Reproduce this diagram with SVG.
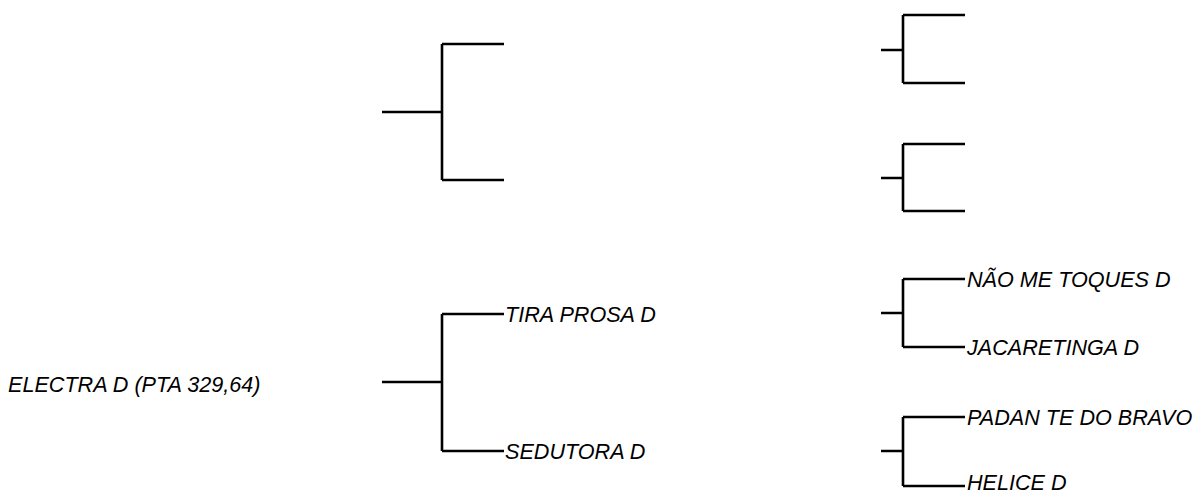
<svg xmlns="http://www.w3.org/2000/svg" width="1195" height="491" viewBox="0 0 1195 491">
<style>
.l{fill:none;stroke:#000;stroke-width:2.6;stroke-linecap:butt;stroke-linejoin:miter}
.t{font-family:"Liberation Sans",Arial,sans-serif;font-style:italic;font-size:21.6px;fill:#000}
</style>
<rect width="1195" height="491" fill="#fff"/>
<g id="connectors">
<path class="l" d="M382,112H442M442,44V180M442,44H504M442,180H504"/>
<path class="l" d="M382,382H442M442,314V451M442,314H504M442,451H504"/>
<path class="l" d="M881,50H903M903,15V83M903,15H965M903,83H965"/>
<path class="l" d="M881,178H903M903,144V211M903,144H965M903,211H965"/>
<path class="l" d="M881,313H903M903,279V347M903,279H965M903,347H965"/>
<path class="l" d="M881,451H903M903,417V486M903,417H965M903,486H965"/>
</g>
<g id="n-electra"><text class="t" x="8" y="392">ELECTRA D (PTA 329,64)</text></g>
<g id="n-tiraprosa"><text class="t" x="505" y="322">TIRA PROSA D</text></g>
<g id="n-sedutora"><text class="t" x="505" y="459">SEDUTORA D</text></g>
<g id="n-naometoques"><text class="t" x="967" y="287">NÃO ME TOQUES D</text></g>
<g id="n-jacaretinga"><text class="t" x="967" y="355">JACARETINGA D</text></g>
<g id="n-padante"><text class="t" x="967" y="425">PADAN TE DO BRAVO</text></g>
<g id="n-helice"><text class="t" x="967" y="490">HELICE D</text></g>
</svg>
